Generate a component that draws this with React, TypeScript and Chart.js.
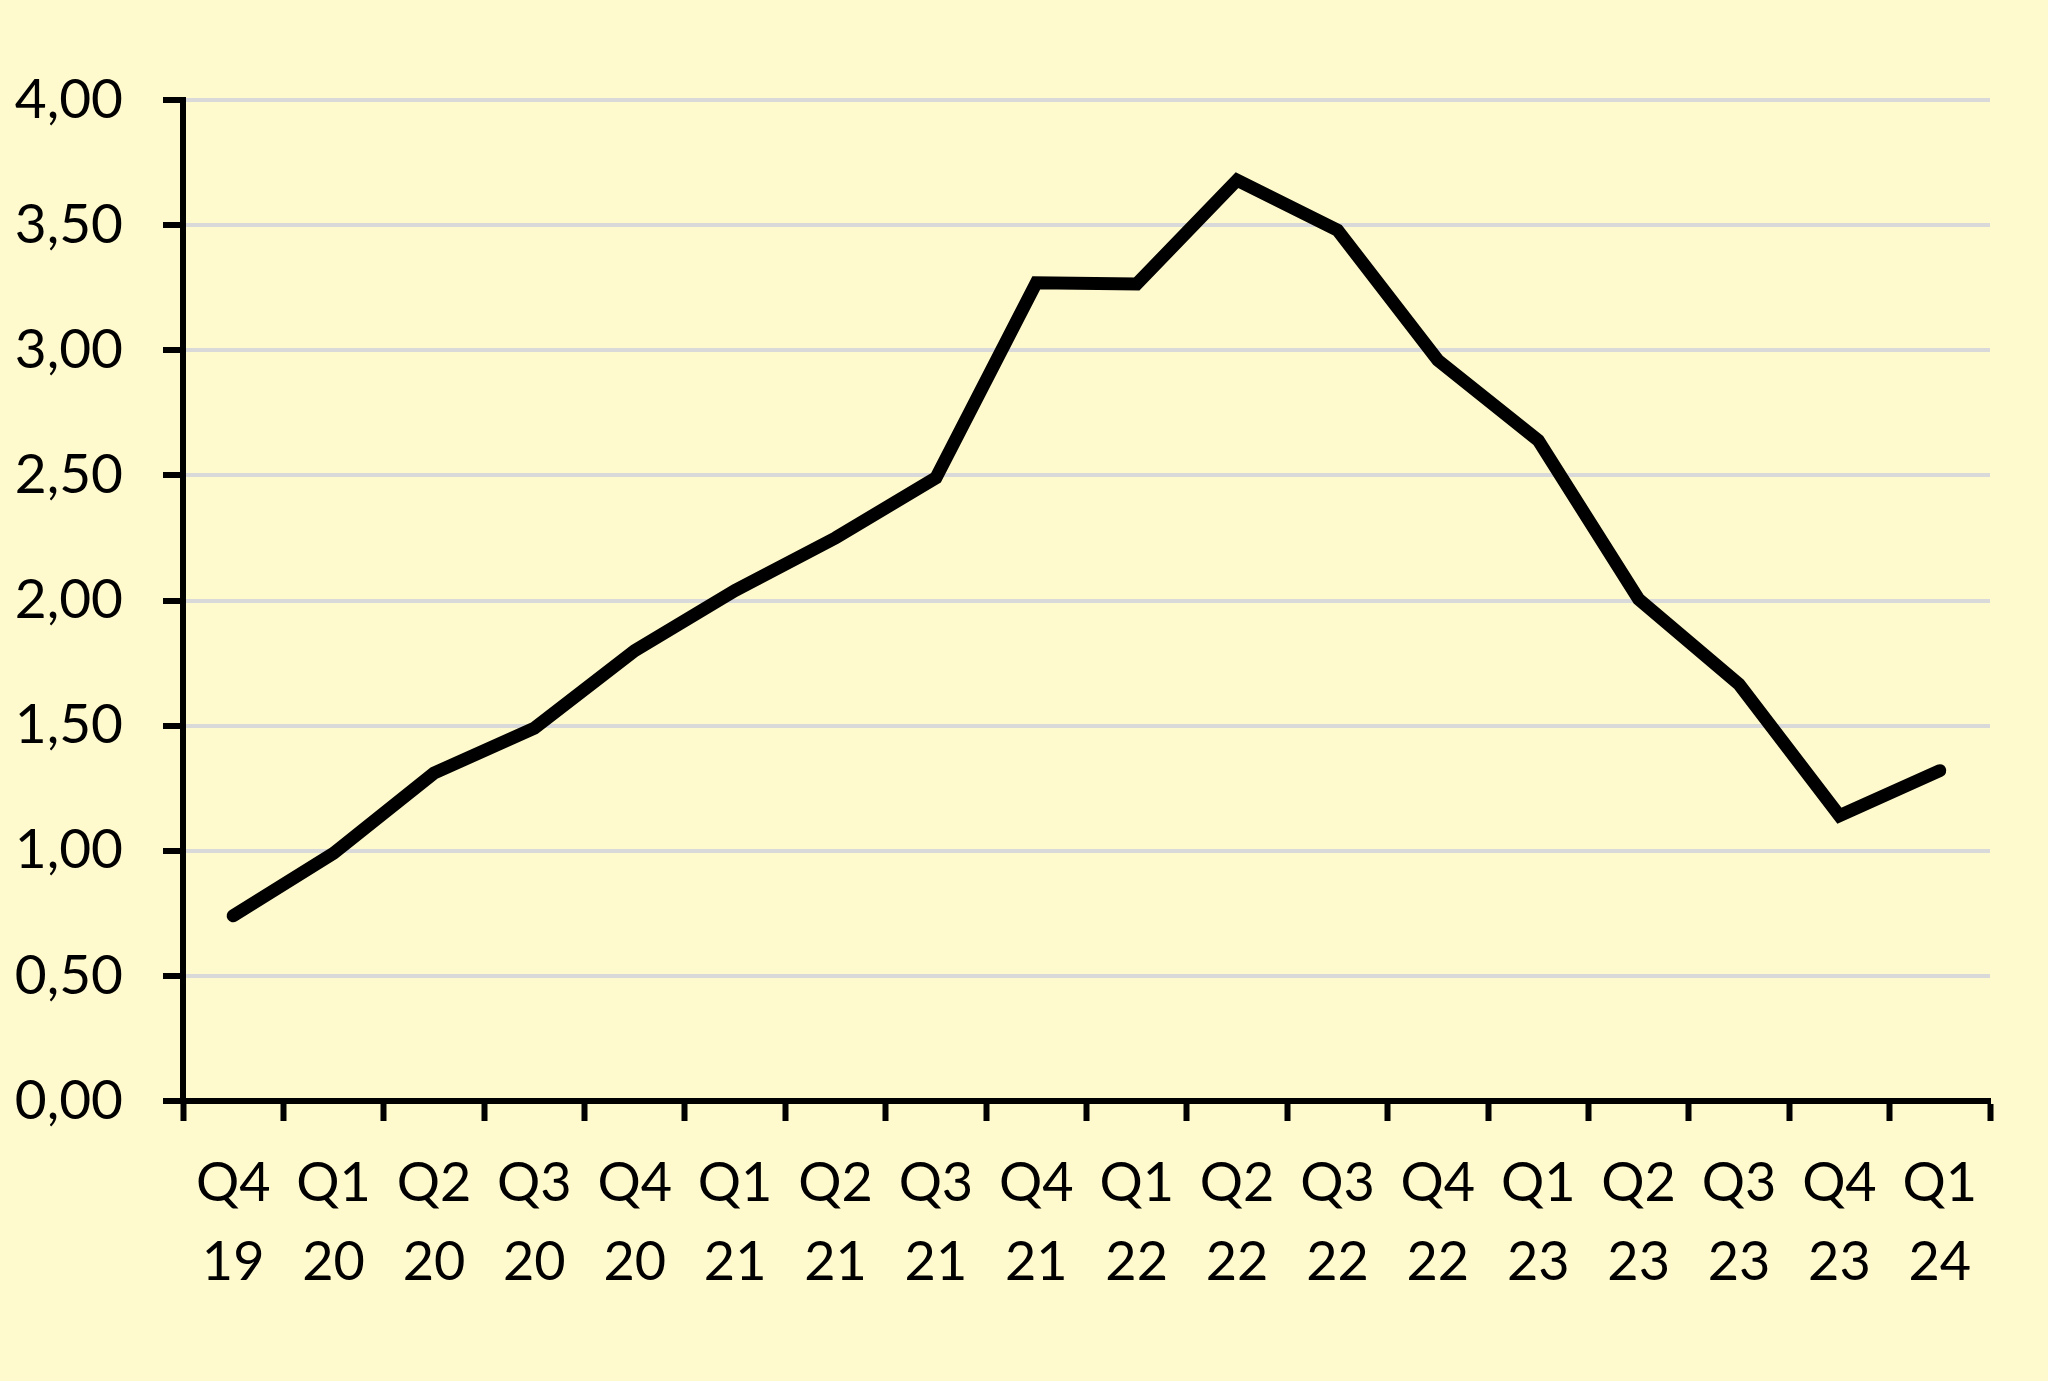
import React, { useEffect, useRef } from "react";
import { Chart, registerables } from "chart.js";

Chart.register(...registerables);

const quarters = ["Q4", "Q1", "Q2", "Q3", "Q4", "Q1", "Q2", "Q3", "Q4", "Q1", "Q2", "Q3", "Q4", "Q1", "Q2", "Q3", "Q4", "Q1"];
const years = ["19", "20", "20", "20", "20", "21", "21", "21", "21", "22", "22", "22", "22", "23", "23", "23", "23", "24"];
const values = [0.74, 0.99, 1.31, 1.49, 1.8, 2.04, 2.25, 2.49, 3.27, 3.265, 3.68, 3.48, 2.96, 2.64, 2.005, 1.665, 1.14, 1.32];
const yMin = 0;
const yMax = 4;
const yStep = 0.5;

const BG = "#FFFACD";
const FONT = "Lato";

export default function App() {
  const ref = useRef<HTMLCanvasElement | null>(null);

  useEffect(() => {
    if (!ref.current) return;
    const labels = quarters.map((q, i) => [q, years[i]]);
    const chart = new Chart(ref.current, {
      type: "line",
      data: {
        labels,
        datasets: [
          {
            data: values,
            borderColor: "#000000",
            borderWidth: 13,
            pointRadius: 0,
            tension: 0,
            borderCapStyle: "round",
            borderJoinStyle: "miter",
            fill: false,
            clip: false as any,
          },
        ],
      },
      options: {
        animation: false,
        responsive: false,
        events: [],
        layout: { padding: { left: 0, top: 100, right: 58, bottom: 0 } },
        plugins: {
          legend: { display: false },
          tooltip: { enabled: false },
          title: { display: false },
        },
        scales: {
          x: {
            type: "category",
            offset: true,
            grid: {
              display: true,
              offset: true,
              drawOnChartArea: false,
              drawTicks: true,
              tickLength: 20,
              tickColor: "#000000",
              tickWidth: 6,
            },
            border: { display: true, color: "#000000", width: 6 },
            ticks: {
              color: "#000000",
              font: { family: FONT, size: 54, lineHeight: 1.47 },
              padding: 23,
              maxRotation: 0,
              minRotation: 0,
              autoSkip: false,
            },
            afterFit: (scale: any) => {
              scale.height = 280;
            },
          },
          y: {
            type: "linear",
            min: yMin,
            max: yMax,
            grid: {
              color: "#D9D9D9",
              lineWidth: 4,
              drawTicks: true,
              tickLength: 20,
              tickColor: "#000000",
              tickWidth: 6,
            },
            border: { display: true, color: "#000000", width: 6 },
            ticks: {
              stepSize: yStep,
              color: "#000000",
              font: { family: FONT, size: 55 },
              padding: 40,
              callback: (v: any) => Number(v).toFixed(2).replace(".", ","),
            },
            afterFit: (scale: any) => {
              scale.width = 183;
            },
          },
        },
      },
    });
    return () => chart.destroy();
  }, []);

  return (
    <div style={{ position: "absolute", left: 0, top: 0, width: 2048, height: 1381, background: BG }}>
      <canvas ref={ref} width={2048} height={1381} style={{ display: "block" }} />
    </div>
  );
}
